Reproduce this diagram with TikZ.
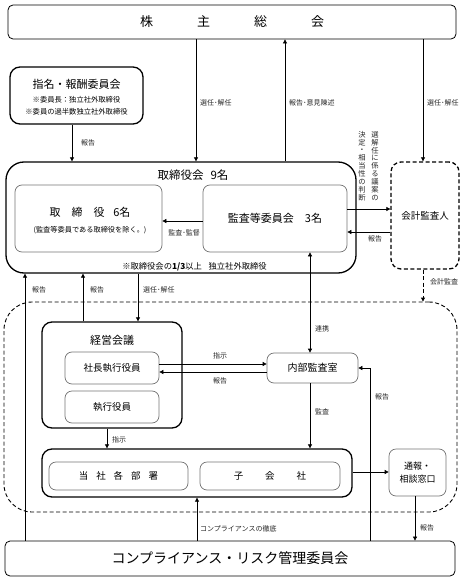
\documentclass[tikz,border=0pt]{standalone}
\usepackage{fontspec}
\setmainfont{Noto Sans CJK JP}
\usetikzlibrary{arrows.meta,calc}
\begin{document}
\begin{tikzpicture}[x=1pt,y=-1pt,
  arr/.style={draw=black,line width=0.7pt,-{Triangle[length=4pt,width=4pt]}},
  ln/.style={draw=black,line width=0.7pt},
  outerbox/.style={draw=black,line width=1.3pt,rounded corners=10pt,inner sep=0pt},
  thinbox/.style={draw=black,line width=0.8pt,rounded corners=5pt,inner sep=0pt},
  innerbox/.style={draw=black!55,line width=0.7pt,rounded corners=7pt,inner sep=0pt,align=center},
  lbl/.style={font=\fontsize{7}{7.5}\selectfont,inner sep=0pt,text=black!85},
  vtext/.style={font=\fontsize{7.3}{7.9}\selectfont,align=center,inner sep=0pt,text=black!85}
]
\useasboundingbox (0,0) rectangle (464,580);

% column coordinates
\coordinate (x25) at (25,0);
\coordinate (x72) at (72,0);
\coordinate (x83) at (83,0);
\coordinate (x107) at (107,0);
\coordinate (x138) at (138,0);
\coordinate (x196) at (196,0);
\coordinate (x197) at (197,0);
\coordinate (x285) at (285,0);
\coordinate (x310) at (310,0);
\coordinate (x370) at (370,0);
\coordinate (x415) at (415,0);
\coordinate (x423) at (423,0);
\coordinate (y209) at (0,209);
\coordinate (y221) at (0,221);
\coordinate (y232) at (0,232);
\coordinate (y364) at (0,364);
\coordinate (y372) at (0,372);
\coordinate (y472) at (0,472);

% nodes
\node[thinbox,minimum width=448pt,minimum height=34pt,font=\fontsize{13}{14}\selectfont] (sh) at (232,22)
  {株\hspace{44pt}主\hspace{44pt}総\hspace{44pt}会};

\node[outerbox,minimum width=133pt,minimum height=57pt] (nom) at (76.5,95.5) {};
\node[font=\fontsize{11}{12}\selectfont,inner sep=0pt] (nomt) at (76.5,84) {指名・報酬委員会};
\node[font=\fontsize{7.3}{8}\selectfont,inner sep=0pt] (noma) at (76.5,100) {※委員長：独立社外取締役};
\node[font=\fontsize{7.3}{8}\selectfont,inner sep=0pt] (nomb) at (76.5,112) {※委員の過半数独立社外取締役};

\node[outerbox,rounded corners=18pt,minimum width=350pt,minimum height=111pt] (board) at (181,217.5) {};
\node[font=\fontsize{11.5}{12}\selectfont,inner sep=0pt] (boardt) at (193,175) {取締役会\hspace{0.6em}9名};
\node[innerbox,minimum width=147pt,minimum height=67pt] (dir) at (88.5,218.5) {};
\node[font=\fontsize{11}{12}\selectfont,inner sep=0pt] (dirt) at (90,212) {取\hspace{1em}締\hspace{1em}役\hspace{0.8em}6名};
\node[font=\fontsize{7.2}{8}\selectfont,inner sep=0pt] (dirs) at (90,230) {(監査等委員である取締役を除く。)};
\node[innerbox,minimum width=144pt,minimum height=67pt,font=\fontsize{11}{12}\selectfont] (aud) at (275,218.5) {監査等委員会\hspace{1em}3名};
\node[font=\fontsize{8.3}{9}\selectfont,inner sep=0pt] (foot) at (194.5,267) {※取締役会の\textbf{1/3}以上\hspace{0.8em}独立社外取締役};

\node[draw=black,line width=1.3pt,dash pattern=on 4pt off 2.5pt,rounded corners=10pt,minimum width=68pt,minimum height=107pt,font=\fontsize{9.5}{10}\selectfont,inner sep=0pt] (acc) at (425,215.5) {会計監査人};

\node[draw=black,line width=0.9pt,dash pattern=on 4pt off 2.5pt,rounded corners=28pt,minimum width=453pt,minimum height=210pt,inner sep=0pt] (reg) at (230.5,407) {};

\node[outerbox,minimum width=140pt,minimum height=106pt] (mgmt) at (112,375) {};
\node[font=\fontsize{11}{12}\selectfont,inner sep=0pt] (mgmtt) at (112,340) {経営会議};
\node[innerbox,minimum width=94pt,minimum height=32pt,font=\fontsize{9.5}{10}\selectfont] (pres) at (112,368) {社長執行役員};
\node[innerbox,minimum width=94pt,minimum height=32pt,font=\fontsize{9.5}{10}\selectfont] (exec) at (112,407) {執行役員};

\node[innerbox,minimum width=91pt,minimum height=30pt,font=\fontsize{10}{11}\selectfont] (ia) at (312.5,368) {内部監査室};

\node[outerbox,minimum width=310pt,minimum height=48pt] (grp) at (197,473) {};
\node[innerbox,minimum width=139pt,minimum height=28pt,font=\fontsize{9.5}{10}\selectfont] (dept) at (118.5,476) {当\hspace{8pt}社\hspace{8pt}各\hspace{8pt}部\hspace{8pt}署};
\node[innerbox,minimum width=140pt,minimum height=28pt,font=\fontsize{9.5}{10}\selectfont] (sub) at (270,476) {子\hspace{22pt}会\hspace{22pt}社};

\node[innerbox,minimum width=57pt,minimum height=47pt,font=\fontsize{9}{12.5}\selectfont] (wb) at (417.5,472.5) {通報・\\相談窓口};

\node[thinbox,minimum width=450pt,minimum height=35pt,font=\fontsize{14}{15}\selectfont] (comp) at (230,558.5) {コンプライアンス・リスク管理委員会};

% connectors
\draw[arr] (sh.south -| x196) -- (board.north -| x196);
\draw[arr] (board.north -| x285) -- (sh.south -| x285);
\draw[arr] (sh.south -| x423) -- (acc.north -| x423);
\draw[arr] (nom.south -| x72) -- (board.north -| x72);
\draw[arr] (aud.east |- y209) -- (acc.west |- y209);
\draw[arr] (acc.west |- y232) -- (aud.east |- y232);
\draw[arr] (aud.west |- y221) -- (dir.east |- y221);
\draw[arr,{Triangle[length=4pt,width=4pt]}-{Triangle[length=4pt,width=4pt]}] (aud.south -| x310) -- (ia.north -| x310);
\draw[arr,dash pattern=on 4pt off 2.5pt,line width=0.9pt] (acc.south -| x423) -- (reg.north -| x423);
\draw[arr] (comp.north -| x25) -- (board.south -| x25);
\draw[arr] (mgmt.north -| x83) -- (board.south -| x83);
\draw[arr] (board.south -| x138) -- (mgmt.north -| x138);
\draw[arr] (pres.east |- y364) -- (ia.west |- y364);
\draw[arr] (ia.west |- y372) -- (pres.east |- y372);
\draw[arr] (mgmt.south -| x107) -- (grp.north -| x107);
\draw[arr] (ia.south -| x310) -- (grp.north -| x310);
\draw[arr] (comp.north -| x370) |- (ia.east);
\draw[arr] (grp.east |- y472) -- (wb.west |- y472);
\draw[arr] (wb.south -| x415) -- (comp.north -| x415);
\draw[arr] (comp.north -| x197) -- (grp.south -| x197);

% labels
\node[lbl,anchor=west] (l1) at (200,103) {選任･解任};
\node[lbl,anchor=west] (l2) at (289,103) {報告･意見陳述};
\node[lbl,anchor=west] (l3) at (427,103) {選任･解任};
\node[lbl,anchor=west] (l4) at (81,143) {報告};
\node[vtext] (v1) at (375,166) {選\\解\\任\\に\\係\\る\\議\\案\\の};
\node[vtext] (v2) at (362,166) {決\\定\\・\\相\\当\\性\\の\\判\\断};
\node[lbl] (l5) at (375,239) {報告};
\node[lbl] (l6) at (184,233) {監査･監督};
\node[lbl,anchor=west] (l7) at (430,282) {会計監査};
\node[lbl,anchor=west] (l8) at (32,290) {報告};
\node[lbl,anchor=west] (l9) at (90,290) {報告};
\node[lbl,anchor=west] (l10) at (143,290) {選任･解任};
\node[lbl,anchor=west] (l11) at (315,329) {連携};
\node[lbl] (l12) at (220,356) {指示};
\node[lbl] (l13) at (220,381) {報告};
\node[lbl,anchor=west] (l14) at (315,412) {監査};
\node[lbl,anchor=west] (l15) at (375,397) {報告};
\node[lbl,anchor=west] (l16) at (112,440) {指示};
\node[lbl,anchor=west] (l17) at (200,529) {コンプライアンスの徹底};
\node[lbl,anchor=west] (l18) at (420,528) {報告};
\end{tikzpicture}
\end{document}
